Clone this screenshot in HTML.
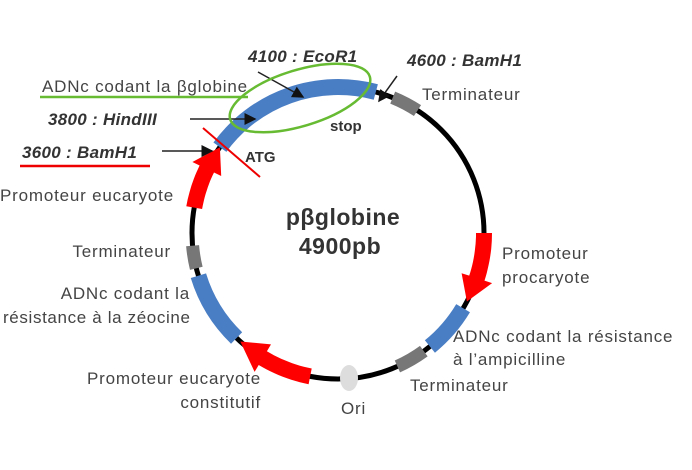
<!DOCTYPE html>
<html><head><meta charset="utf-8"><style>
html,body{margin:0;padding:0;background:#fff;width:692px;height:470px;overflow:hidden}
text{font-family:"Liberation Sans",sans-serif;fill:#444;font-size:17px;letter-spacing:0.8px}
.b{font-weight:bold;font-style:italic;fill:#333;font-size:17px;letter-spacing:0.3px}
</style></head><body>
<svg id="s" width="692" height="470" viewBox="0 0 692 470" xmlns="http://www.w3.org/2000/svg">
<defs><marker id="a" markerWidth="8" markerHeight="8" refX="7" refY="4" orient="auto"><path d="M0,0 L8,4 L0,8 z" fill="#111"/></marker></defs>
<circle cx="338" cy="233" r="146" fill="none" stroke="#000" stroke-width="5"/>
<g id="g"></g>
<ellipse cx="349" cy="378" rx="9" ry="13" fill="#ddd"/>
<line x1="258" y1="72" x2="303" y2="97" stroke="#222" stroke-width="1.5" marker-end="url(#a)"/>
<line x1="397" y1="76" x2="379" y2="101" stroke="#222" stroke-width="1.5" marker-end="url(#a)"/>
<line x1="190" y1="119" x2="255" y2="119" stroke="#222" stroke-width="1.5" marker-end="url(#a)"/>
<line x1="162" y1="151" x2="212" y2="151" stroke="#222" stroke-width="1.5" marker-end="url(#a)"/>
<line x1="203" y1="128" x2="260" y2="177" stroke="#e00" stroke-width="2"/>
<ellipse cx="300" cy="98" rx="73" ry="28" transform="rotate(-17 300 98)" fill="none" stroke="#6b3" stroke-width="2.5"/>
<line x1="40" y1="97" x2="248" y2="97" stroke="#6b3" stroke-width="2.5"/>
<line x1="20" y1="166" x2="150" y2="166" stroke="#e00" stroke-width="2.5"/>
<text x="248" y="62" class="b">4100 : EcoR1</text>
<text x="407" y="66" class="b">4600 : BamH1</text>
<text x="422" y="100">Terminateur</text>
<text x="42" y="92">ADNc codant la βglobine</text>
<text x="48" y="125" class="b">3800 : HindIII</text>
<text x="22" y="158" class="b">3600 : BamH1</text>
<text x="245" y="162" style="font-weight:bold;fill:#333;font-size:15px;letter-spacing:0">ATG</text>
<text x="330" y="131" style="font-weight:bold;fill:#333;font-size:15px;letter-spacing:0">stop</text>
<text x="0" y="201">Promoteur eucaryote</text>
<text x="343" y="225" text-anchor="middle" style="font-weight:bold;fill:#333;font-size:23px;letter-spacing:0.5px">pβglobine</text>
<text x="340" y="254" text-anchor="middle" style="font-weight:bold;fill:#333;font-size:23px;letter-spacing:0.5px">4900pb</text>
<g text-anchor="end" style="letter-spacing:0.3px">
<text x="171" y="257">Terminateur</text>
<text x="190" y="299">ADNc codant la</text>
<text x="3" y="323" text-anchor="start" textLength="187" lengthAdjust="spacing" style="letter-spacing:0">résistance à la zéocine</text>
<text x="261" y="384">Promoteur eucaryote</text>
<text x="261" y="408">constitutif</text>
</g>
<text x="502" y="259">Promoteur</text>
<text x="502" y="283">procaryote</text>
<text x="453" y="342">ADNc codant la résistance</text>
<text x="453" y="365">à l’ampicilline</text>
<text x="410" y="391">Terminateur</text>
<text x="341" y="414">Ori</text>
</svg>
<script>
var cx=338,cy=233,R=146,g=document.getElementById('g'),NS='http://www.w3.org/2000/svg';
function P(a,r){a=a*Math.PI/180;return (cx+r*Math.cos(a)).toFixed(1)+','+(cy+r*Math.sin(a)).toFixed(1);}
function arc(a1,a2,col,w){var p=document.createElementNS(NS,'path');
p.setAttribute('d','M'+P(a1,R)+' A'+R+','+R+' 0 0 1 '+P(a2,R));
p.setAttribute('stroke',col);p.setAttribute('stroke-width',w);p.setAttribute('fill','none');g.appendChild(p);}
function arrow(a1,a2,head){
 var d=a2>a1?1:-1,ah=a2-d*head,pts=[],n=12,i,a;
 for(i=0;i<=n;i++){a=a1+(ah-a1)*i/n;pts.push(P(a,R+8));}
 pts.push(P(ah,R+16));pts.push(P(a2,R));pts.push(P(ah,R-16));
 for(i=n;i>=0;i--){a=a1+(ah-a1)*i/n;pts.push(P(a,R-8));}
 var p=document.createElementNS(NS,'polygon');p.setAttribute('points',pts.join(' '));p.setAttribute('fill','#f00');g.appendChild(p);}
arc(-144,-75,'#4a7ec4',16);
arc(-68,-57,'#777',13);
arc(31,51,'#4a7ec4',16);
arc(54,66,'#777',13);
arc(134,163,'#4a7ec4',16);
arc(166,175,'#777',13);
arrow(0,28,10);
arrow(101,132,11);
arrow(190,216,10);
</script>
</body></html>
